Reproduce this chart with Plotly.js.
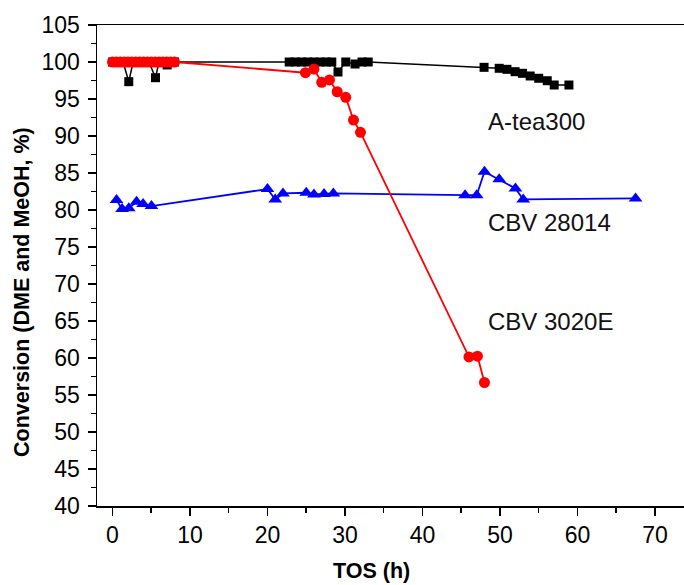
<!DOCTYPE html>
<html>
<head>
<meta charset="utf-8">
<script src="https://cdn.plot.ly/plotly-3.0.1.min.js"></script>
<style>html,body{margin:0;padding:0;background:#fff;}#chart{width:684px;height:585px;}</style>
</head>
<body>
<div id="chart"></div>
<script>
// A-tea300 (black squares)
const ateaX = [0, 0.45, 0.9, 1.37, 2.1, 2.66, 3.2, 3.7, 4.2, 4.7, 5.55, 6.0, 6.5, 7.05, 7.5, 8.0,
  22.8, 23.6, 24.4, 25.2, 26.0, 26.8, 27.6, 28.3, 29.1, 30.1, 31.3, 32.2, 33.0,
  47.95, 49.9, 50.9, 51.95, 52.9, 53.9, 55.0, 56.1, 57.0, 58.9];
const ateaY = [100, 100, 100, 100, 97.34, 100, 100, 100, 100, 100, 97.88, 100, 100, 99.6, 100, 100,
  100, 100, 100, 100, 100, 100, 100, 100, 98.65, 100, 99.73, 100, 100,
  99.28, 99.15, 99.01, 98.69, 98.47, 98.11, 97.8, 97.47, 96.89, 96.89];

// CBV 28014 (blue triangles)
const cbv28X = [0.52, 1.24, 2.1, 3.1, 3.95, 5.03, 20.0, 21.0, 22.0, 25.0, 26.0, 27.3, 28.5,
  45.5, 47.0, 48.0, 49.9, 52.0, 53.0, 67.5];
const cbv28Y = [81.34, 80.12, 80.22, 81.11, 80.80, 80.53, 82.83, 81.43, 82.24, 82.33, 82.11, 82.15, 82.24,
  82.0, 82.0, 85.17, 84.14, 82.92, 81.43, 81.57];

// CBV 3020E (red circles)
const cbv30X = [0, 0.5, 1, 1.5, 2, 2.5, 3, 3.5, 4, 4.5, 5, 5.5, 6, 6.5, 7, 7.5, 8,
  24.9, 26.0, 27.0, 28.0, 29.0, 30.1, 31.1, 32.0, 46.0, 47.1, 48.0];
const cbv30Y = [100, 100, 100, 100, 100, 100, 100, 100, 100, 100, 100, 100, 100, 100, 100, 100, 100,
  98.55, 99.05, 97.25, 97.57, 95.98, 95.23, 92.16, 90.49, 60.15, 60.24, 56.69];

const seriesLabels = ["A-tea300", "CBV 28014", "CBV 3020E"];
const xTitle = "TOS (h)";
const yTitle = "Conversion (DME and MeOH, %)";

const FONT = "Liberation Sans, Arial, sans-serif";

const traces = [
  {x: ateaX, y: ateaY, name: seriesLabels[0], mode: "lines+markers",
   line: {color: "#000000", width: 1.5}, marker: {symbol: "square", size: 9, color: "#000000"}},
  {x: cbv28X, y: cbv28Y, name: seriesLabels[1], mode: "lines+markers",
   line: {color: "#0000ff", width: 1.8}, marker: {symbol: "triangle-up", size: 12, color: "#0000ff"}},
  {x: cbv30X, y: cbv30Y, name: seriesLabels[2], mode: "lines+markers",
   line: {color: "#ff0000", width: 1.8}, marker: {symbol: "circle", size: 11, color: "#ff0000"}}
];

const axisCommon = {
  showgrid: false, zeroline: false, showline: true, linecolor: "#000", linewidth: 1.5,
  ticks: "outside", ticklen: 8, tickwidth: 1.5, tickcolor: "#000",
  tickfont: {family: FONT, size: 23, color: "#000"}
};

const layout = {
  width: 684, height: 585,
  margin: {l: 97, r: 0, t: 25, b: 79},
  paper_bgcolor: "#fff", plot_bgcolor: "#fff",
  showlegend: false,
  font: {family: FONT, color: "#000"},
  xaxis: Object.assign({}, axisCommon, {
    range: [-2, 73.75], tick0: 0, dtick: 10, mirror: true,
    minor: {dtick: 5, tick0: 0, ticks: "outside", ticklen: 5, tickwidth: 1.5, tickcolor: "#000", showgrid: false}
  }),
  yaxis: Object.assign({}, axisCommon, {
    range: [40, 105], tick0: 40, dtick: 5, ticklabelstandoff: 3,
    minor: {dtick: 2.5, tick0: 40, ticks: "outside", ticklen: 5, tickwidth: 1.5, tickcolor: "#000", showgrid: false}
  }),
  annotations: [
    {text: "<b>" + xTitle + "</b>", xref: "paper", yref: "paper", x: 0.4668, y: -0.135,
     xanchor: "center", yanchor: "middle", showarrow: false, font: {family: FONT, size: 21.5, color: "#000"}},
    {text: "<b>" + yTitle + "</b>", xref: "paper", yref: "paper", x: -0.1278, y: 0.445, textangle: -90,
     xanchor: "center", yanchor: "middle", showarrow: false, font: {family: FONT, size: 21.5, color: "#000"}},
    {text: seriesLabels[0], xref: "x", yref: "y", x: 48.2, y: 92.0, xanchor: "left", yanchor: "middle",
     showarrow: false, font: {family: FONT, size: 24, color: "#111"}},
    {text: seriesLabels[1], xref: "x", yref: "y", x: 48.2, y: 78.36, xanchor: "left", yanchor: "middle",
     showarrow: false, font: {family: FONT, size: 24, color: "#111"}},
    {text: seriesLabels[2], xref: "x", yref: "y", x: 48.2, y: 64.98, xanchor: "left", yanchor: "middle",
     showarrow: false, font: {family: FONT, size: 24, color: "#111"}}
  ]
};

Plotly.newPlot("chart", traces, layout, {displayModeBar: false, staticPlot: true});
</script>
</body>
</html>
